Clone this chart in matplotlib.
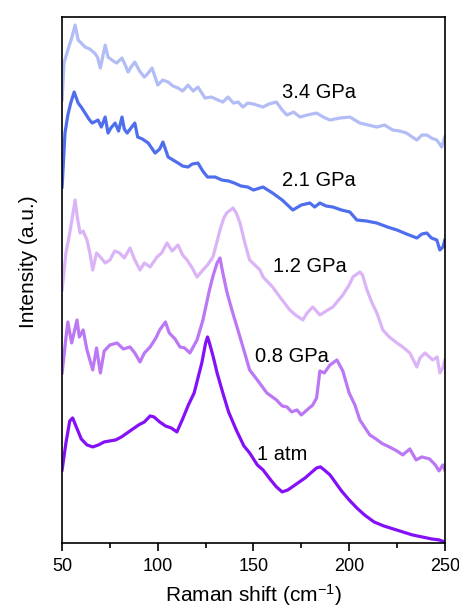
import numpy as np
import matplotlib
matplotlib.use("Agg")
import matplotlib.pyplot as plt
from matplotlib.ticker import MultipleLocator

plt.rcParams['font.family'] = ['Liberation Sans', 'DejaVu Sans']
plt.rcParams['mathtext.default'] = 'regular'

# values (stacked, arbitrary units)
x_1atm = [50, 52, 54, 55.5, 57, 60, 63, 66, 69, 72, 75, 78, 81, 84, 87, 90, 93, 96, 98, 101,
          104, 107, 110, 113, 116, 119, 121, 123, 125, 126, 127, 129, 131, 134, 137, 141, 145, 148, 152, 155,
          159, 162, 165, 168, 171, 174, 177, 180, 183, 185, 187, 190, 193, 196, 200, 204, 208, 213, 218, 223,
          228, 233, 238, 243, 247, 250]
y_1atm = [73, 100, 122, 125, 118, 104, 98, 96, 98, 101, 102, 103, 106, 110, 114, 118, 121, 127, 126, 121,
          117, 115, 111, 124, 138, 150, 165, 180, 200, 206, 200, 186, 170, 150, 131, 113, 97, 90, 78, 73,
          63, 56, 51, 53, 57, 61, 65, 70, 75, 76, 73, 68, 60, 52, 43, 35, 28, 21, 17, 14,
          11, 8, 6, 4, 3, 1]

x_08 = [50, 52, 53, 55, 57.8, 59, 61, 63, 66, 68, 70, 72, 75, 78.7, 82, 85.5, 88, 90.7, 93, 96,
        99, 101, 104, 106, 109, 111.6, 114, 116.8, 120.5, 123.6, 127, 129, 131, 132.5, 134, 136, 137.7, 139.5, 141.4, 144.5,
        148, 152, 157, 162, 165, 167.5, 170, 172.7, 175, 178, 181, 183, 184.7, 187, 190, 193.6, 196.7, 200, 203, 205.6,
        208, 210.8, 214, 217.6, 221, 225, 228, 231.7, 235, 238, 242, 245, 247, 249, 250]
y_08 = [170, 205, 221, 200, 223, 206, 213, 193, 173, 195, 170, 192, 198, 200, 194, 196, 190, 181, 190, 196,
        205, 213, 221, 210, 204, 196, 195, 190, 203, 223, 253, 268, 280, 285, 270, 252, 240, 228, 216, 196,
        173, 163, 150, 143, 137, 136, 131, 133, 128, 133, 138, 145, 172, 170, 178, 183, 172, 150, 138, 123,
        116, 108, 104, 99, 96, 92, 88, 94, 83, 86, 84, 78, 72, 78, 73]

x_12 = [50, 52, 54, 56.8, 58, 59.4, 61, 63, 64.5, 66, 68, 70, 72.5, 75, 77.5, 80, 82.5, 85.5, 88, 90.7,
        93, 96, 99.6, 102, 104.8, 107.5, 110.6, 113, 115.3, 118, 120.5, 123.6, 126, 128.8, 130.5, 132.5, 134.5, 136, 139.3, 141,
        143, 145.5, 148, 153.4, 155, 160, 163.8, 169, 172, 175.8, 178, 181, 184.7, 188, 191.5, 196.7, 200, 202, 205.6, 207,
        209.3, 212, 214.5, 217.6, 221, 225, 228, 231.7, 235.4, 237, 239.6, 243.7, 246, 247.4, 249, 250]
y_12 = [253, 290, 310, 343, 325, 310, 312, 303, 290, 273, 290, 286, 280, 283, 292, 290, 285, 295, 283, 273,
        280, 276, 286, 290, 300, 292, 298, 288, 283, 275, 266, 273, 278, 286, 298, 313, 325, 330, 335, 330,
        320, 300, 283, 273, 266, 256, 246, 233, 228, 223, 230, 236, 228, 232, 236, 248, 258, 266, 271, 268,
        253, 240, 230, 213, 206, 200, 196, 190, 176, 185, 190, 183, 186, 170, 175, 183]

x_21 = [50, 51.5, 53, 54.5, 56.3, 58.4, 60, 62, 64, 65.7, 68.8, 70.5, 72.5, 74, 75.5, 77.7, 79.5, 81.3, 82.5, 84,
        86, 88, 89.5, 92, 95, 98.6, 101, 102.7, 105.4, 108, 110.6, 113, 115.8, 118, 121, 123.5, 126, 130, 133.5, 137,
        140, 143.5, 147, 150, 155, 160, 165, 170.6, 175, 179.5, 182, 184.7, 188, 191.5, 196, 200.4, 204, 209, 214.5, 220,
        225, 230, 235.4, 238, 240.6, 243, 245.8, 247.4, 249, 250]
y_21 = [356, 410, 428, 440, 451, 440, 436, 430, 424, 420, 423, 416, 426, 410, 415, 420, 412, 426, 414, 410,
        415, 420, 406, 404, 400, 390, 394, 401, 386, 383, 380, 377, 376, 379, 380, 372, 366, 366, 363, 362,
        360, 357, 356, 353, 356, 350, 343, 333, 338, 340, 336, 340, 337, 336, 333, 331, 323, 322, 320, 316,
        313, 309, 305, 309, 310, 305, 303, 293, 296, 303]

x_34 = [50, 51, 53, 55, 56.8, 58.4, 60, 62, 64.5, 67, 68.5, 70, 72.5, 74, 76, 78.5, 81.3, 83, 84.5, 86,
        88, 90.5, 93, 95, 97, 100, 102.5, 105.4, 108, 110.6, 113, 115.8, 118.5, 121, 124.7, 128, 131.5, 134, 136.7, 139.5,
        142, 144.5, 147, 150, 155, 158, 162, 165, 167.5, 171, 174.3, 178, 183, 186.5, 190, 195, 200.4, 205.6, 210, 214.5,
        218.5, 222.8, 226.5, 230, 233, 235.4, 238, 240.6, 243, 245.8, 248.4, 250]
y_34 = [443, 480, 493, 505, 518, 503, 500, 496, 494, 490, 486, 475, 498, 486, 483, 480, 485, 478, 471, 476,
        481, 472, 466, 470, 475, 458, 463, 461, 457, 455, 452, 458, 452, 456, 445, 446, 443, 441, 446, 440,
        441, 436, 440, 439, 436, 439, 441, 433, 428, 431, 426, 428, 430, 426, 423, 425, 426, 420, 418, 416,
        418, 413, 412, 410, 406, 403, 408, 408, 405, 403, 396, 406]

labels = ['3.4 GPa', '2.1 GPa', '1.2 GPa', '0.8 GPa', '1 atm']
label_x = [165, 165, 160, 151, 152]
label_y = [451, 363, 276, 186, 88]
colors = ['#b2bcf6', '#4f6eee', '#dbb4f7', '#bb77f4', '#8410f8']

fig = plt.figure(figsize=(4.6, 6.1), dpi=100)
ax = fig.add_axes([0.135, 0.11, 0.832, 0.862])

series = [(x_34, y_34), (x_21, y_21), (x_12, y_12), (x_08, y_08), (x_1atm, y_1atm)]
for (xs, ys), c in zip(series, colors):
    ax.plot(xs, ys, color=c, lw=2.3)

for t, tx, ty in zip(labels, label_x, label_y):
    ax.text(tx, ty, t, fontsize=14.5, va='center', ha='left')

ax.set_xlim(50, 250)
ax.set_ylim(0, 526)
ax.xaxis.set_major_locator(MultipleLocator(50))
ax.xaxis.set_minor_locator(MultipleLocator(25))
ax.set_yticks([])
ax.tick_params(axis='x', which='major', direction='out', length=6, width=1.2, labelsize=13, pad=5)
ax.tick_params(axis='x', which='minor', direction='out', length=3.5, width=1.2)
for sp in ax.spines.values():
    sp.set_linewidth(1.2)

ax.set_xlabel('Raman shift (cm$^{-1}$)', fontsize=15, labelpad=5)
ax.set_ylabel('Intensity (a.u.)', fontsize=15)
ax.yaxis.set_label_coords(-0.062, 0.535)

fig.savefig('out.png', dpi=100)
